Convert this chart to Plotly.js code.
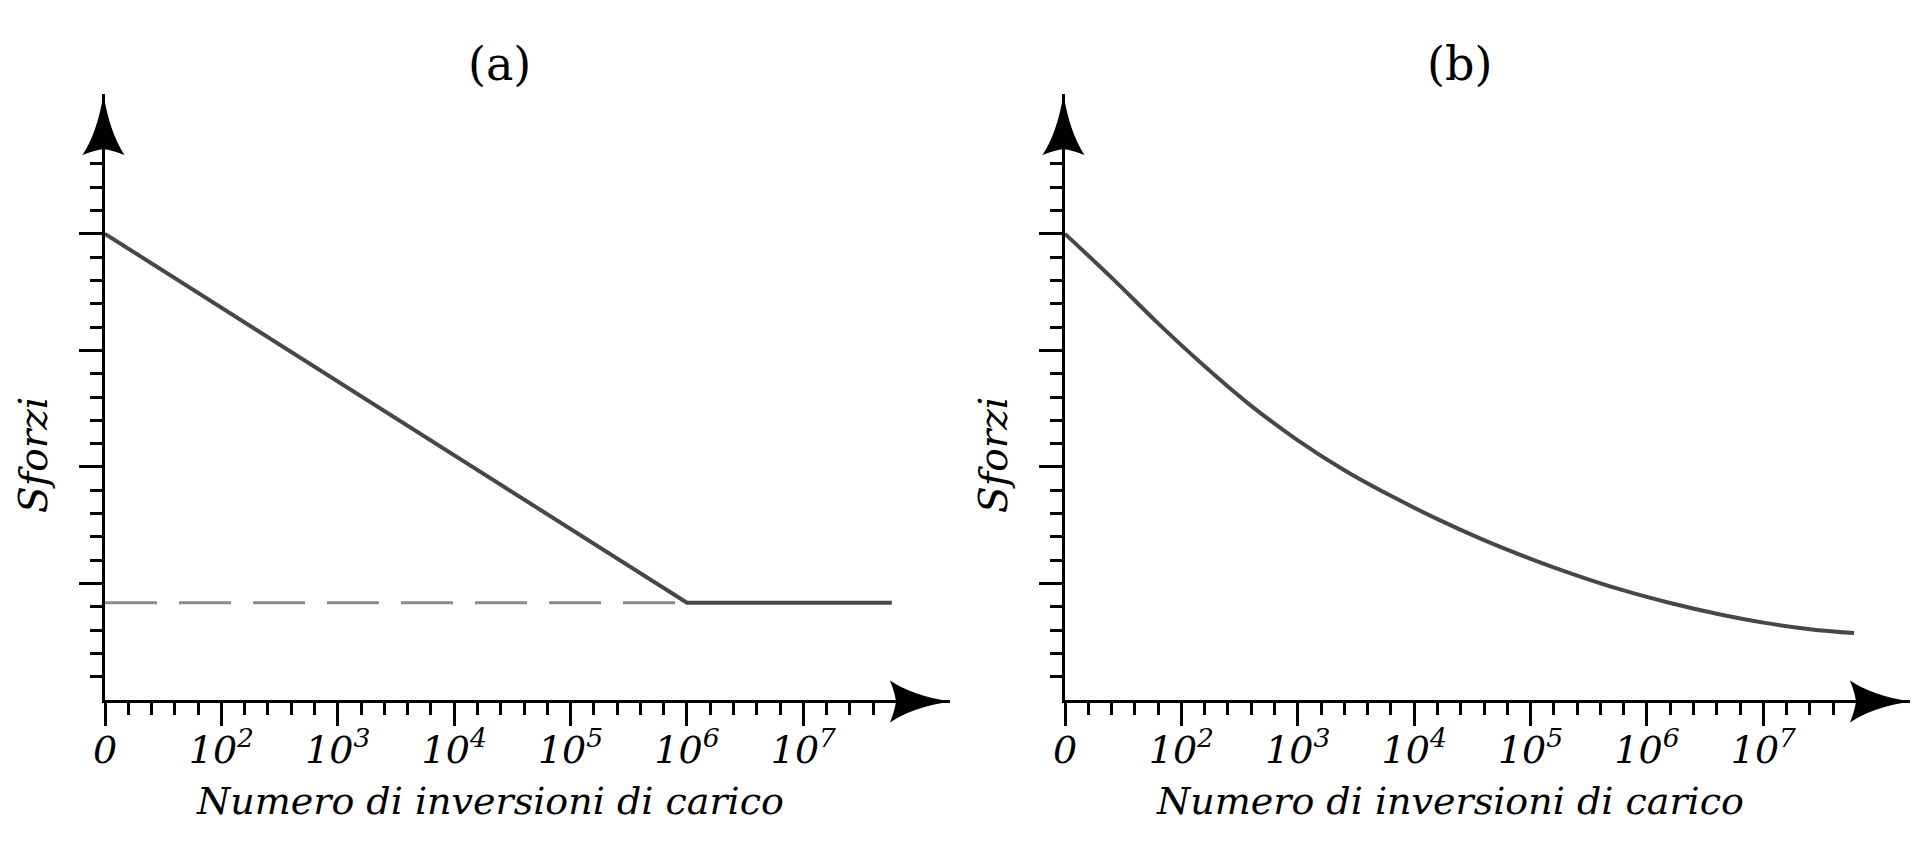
<!DOCTYPE html>
<html><head><meta charset="utf-8">
<script src="https://cdn.plot.ly/plotly-3.0.1.min.js"></script>
<style>html,body{margin:0;padding:0;background:#fff;} #chart{width:1920px;height:857px;}</style>
</head><body><div id="chart"></div>
<script>
// ---- text ----
const panelTitles = ['(a)', '(b)'];
const xAxisTitle = 'Numero di inversioni di carico';
const yAxisTitle = 'Sforzi';

// ---- axis ticks (schematic axis units) ----
const xTickVals = [0, 5, 10, 15, 20, 25, 30];
const xTickText = ['0', '10<sup>2</sup>', '10<sup>3</sup>', '10<sup>4</sup>', '10<sup>5</sup>', '10<sup>6</sup>', '10<sup>7</sup>'];
const xMinorVals = [1,2,3,4,6,7,8,9,11,12,13,14,16,17,18,19,21,22,23,24,26,27,28,29,31,32,33];
const yTickVals = [5, 10, 15, 20];
const yMinorVals = [1,2,3,4,6,7,8,9,11,12,13,14,16,17,18,19,21,22,23];

// ---- panel (a): bilinear S-N curve + fatigue limit (dashed) ----
const aCurveX = [0, 25, 33.8];
const aCurveY = [20, 4.17, 4.17];
const aLimitX = [0, 25];
const aLimitY = [4.17, 4.17];

// ---- panel (b): continuously decreasing curve ----
const bCurveX = [0, 2, 4, 6, 8, 10, 12, 14, 16, 18, 20, 22, 24, 26, 28, 30, 32, 33.9];
const bCurveY = [20, 18.12, 16.16, 14.32, 12.62, 11.14, 9.86, 8.76, 7.76, 6.86, 6.06, 5.34, 4.70, 4.16, 3.70, 3.32, 3.04, 2.87];

// ---- layout geometry ----
const W = 1920, H = 857;
const xRange = [0, 36.3];
const yRange = [0, 26];
const xDomA = [105 / W, 950 / W];
const xDomB = [1065 / W, 1910 / W];
const yDom = [1 - 700 / H, 1 - 94 / H];

const FONT = 'DejaVu Serif, Liberation Serif, serif';
const lineColor = '#474747';

function xAxis(domain, anchor) {
  return {
    domain: domain, anchor: anchor, range: xRange, fixedrange: true,
    showline: true, linecolor: '#000', linewidth: 3,
    showgrid: false, zeroline: false,
    ticks: 'outside', tickmode: 'array', tickvals: xTickVals, ticktext: xTickText,
    ticklen: 23, tickwidth: 3, tickcolor: '#000', ticklabelstandoff: -9,
    tickfont: {family: FONT, size: 38, style: 'italic', color: '#000'},
    minor: {tickmode: 'array', tickvals: xMinorVals, ticks: 'outside', ticklen: 12, tickwidth: 3, tickcolor: '#000', showgrid: false}
  };
}
function yAxis(anchor) {
  return {
    domain: yDom, anchor: anchor, range: yRange, fixedrange: true,
    showline: true, linecolor: '#000', linewidth: 3,
    showgrid: false, zeroline: false, showticklabels: false,
    ticks: 'outside', tickmode: 'array', tickvals: yTickVals,
    ticklen: 23, tickwidth: 3, tickcolor: '#000',
    minor: {tickmode: 'array', tickvals: yMinorVals, ticks: 'outside', ticklen: 12, tickwidth: 3, tickcolor: '#000', showgrid: false}
  };
}

// arrowheads, drawn in paper coords from pixel offsets relative to the axis ends
function P(xpx, ypx) { return (xpx / W).toFixed(5) + ',' + (1 - ypx / H).toFixed(5); }
function upArrow(cx, tipY) {
  return 'M' + P(cx, tipY) +
    ' Q' + P(cx + 6, tipY + 38) + ' ' + P(cx + 21, tipY + 61) +
    ' Q' + P(cx + 8, tipY + 56) + ' ' + P(cx, tipY + 55) +
    ' Q' + P(cx - 8, tipY + 56) + ' ' + P(cx - 21, tipY + 61) +
    ' Q' + P(cx - 6, tipY + 38) + ' ' + P(cx, tipY) + ' Z';
}
function rightArrow(tipX, cy) {
  return 'M' + P(tipX, cy) +
    ' Q' + P(tipX - 38, cy - 6) + ' ' + P(tipX - 60, cy - 21) +
    ' Q' + P(tipX - 55, cy - 8) + ' ' + P(tipX - 54, cy) +
    ' Q' + P(tipX - 55, cy + 8) + ' ' + P(tipX - 60, cy + 21) +
    ' Q' + P(tipX - 38, cy + 6) + ' ' + P(tipX, cy) + ' Z';
}

const shapes = [];
[xDomA, xDomB].forEach(function (d) {
  const x0 = d[0] * W - 1.5, x1 = d[1] * W;
  const y0 = (1 - yDom[0]) * H + 1.5, y1 = (1 - yDom[1]) * H;
  shapes.push({type: 'path', xref: 'paper', yref: 'paper', path: upArrow(x0, y1), fillcolor: '#000', line: {width: 0}, layer: 'above'});
  shapes.push({type: 'path', xref: 'paper', yref: 'paper', path: rightArrow(x1, y0), fillcolor: '#000', line: {width: 0}, layer: 'above'});
});

const annotations = [];
[[xDomA, 0], [xDomB, 1]].forEach(function (p) {
  const off = p[1] * 960;
  annotations.push({text: panelTitles[p[1]], xref: 'paper', yref: 'paper', x: (499 + off) / W, y: 1 - 64 / H,
    xanchor: 'center', yanchor: 'middle', showarrow: false, font: {family: FONT, size: 46, color: '#000'}});
  annotations.push({text: xAxisTitle, xref: 'paper', yref: 'paper', x: (490 + off) / W, y: 1 - 801 / H,
    xanchor: 'center', yanchor: 'middle', showarrow: false, font: {family: FONT, size: 38, style: 'italic', color: '#000'}});
  annotations.push({text: yAxisTitle, xref: 'paper', yref: 'paper', x: (34 + off) / W, y: 1 - 455 / H,
    xanchor: 'center', yanchor: 'middle', textangle: -90, showarrow: false, font: {family: FONT, size: 39, style: 'italic', color: '#000'}});
});

const traces = [
  {x: aLimitX, y: aLimitY, xaxis: 'x', yaxis: 'y', mode: 'lines', line: {color: '#8a8a8a', width: 3, dash: '52px,22px'}, hoverinfo: 'skip'},
  {x: aCurveX, y: aCurveY, xaxis: 'x', yaxis: 'y', mode: 'lines', line: {color: lineColor, width: 4}, hoverinfo: 'skip'},
  {x: bCurveX, y: bCurveY, xaxis: 'x2', yaxis: 'y2', mode: 'lines', line: {color: lineColor, width: 4, shape: 'spline', smoothing: 1}, hoverinfo: 'skip'}
];

const layout = {
  width: W, height: H, margin: {l: 0, r: 0, t: 0, b: 0},
  paper_bgcolor: '#fff', plot_bgcolor: 'rgba(0,0,0,0)', showlegend: false,
  xaxis: xAxis(xDomA, 'y'), yaxis: yAxis('x'),
  xaxis2: xAxis(xDomB, 'y2'), yaxis2: yAxis('x2'),
  shapes: shapes, annotations: annotations
};

Plotly.newPlot('chart', traces, layout, {displayModeBar: false, staticPlot: true});
</script></body></html>
